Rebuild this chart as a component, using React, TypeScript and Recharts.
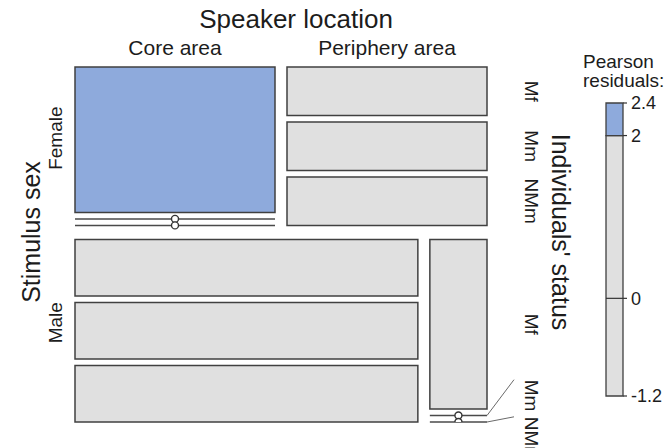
import React from "react";
import { ComposedChart, XAxis, YAxis, ReferenceArea, ReferenceLine, Scatter } from "recharts";

const sexLevels = ["Female", "Male"];
const locationLevels = ["Core area", "Periphery area"];
const statusLevels = ["Mf", "Mm", "NMm"];

// counts per location (rows) and status (columns)
const femaleCounts = [
  [15, 0, 0],
  [5, 5, 5],
];
const maleCounts = [
  [10, 10, 10],
  [5, 0, 0],
];

// Pearson residuals, same shape as the counts
const femaleResiduals = [
  [2.4, -1.2, -1.2],
  [-0.9, 0.7, 0.7],
];
const maleResiduals = [
  [-0.6, 0.5, 0.5],
  [1.1, -1.0, -1.0],
];

const legendBreaks = [-1.2, 2, 2.4];
const legendTicks = [-1.2, 0, 2, 2.4];

// label nudges (px along the row) for the status labels of the last column
const femaleLabelNudge = [0, 0, 0];
const maleLabelNudge = [0, -20, 17.5];

const FONT = '"Liberation Sans", Arial, sans-serif';
const INK = "#1c1c1c";
const GREY = "#e0e0e0";
const BLUE = "#8eaadc";
const EDGE = "#404040";

// plot box of the mosaic, in px
const LEFT = 75;
const TOP = 67;
const W = 412;
const H = 355;
const SEX_GAP = 14;
const LOC_GAP = 12;
const STATUS_GAP = 6.5;
const LABEL_SIZE = 19;

type Tile = {
  row: number;
  col: number;
  k: number;
  x0: number;
  x1: number;
  y0: number;
  y1: number;
  n: number;
  resid: number;
};

const sum = (a: number[]) => a.reduce((s, v) => s + v, 0);

// rough Arial widths, only used to find where a rotated label starts
const EM: Record<string, number> = { M: 0.833, N: 0.722, m: 0.833, f: 0.278 };
const textLen = (s: string, size: number) => sum(s.split("").map((c) => EM[c] ?? 0.556)) * size;

function fillFor(r: number) {
  return r > legendBreaks[1] ? BLUE : GREY;
}

function layout() {
  const counts = [femaleCounts, maleCounts];
  const resids = [femaleResiduals, maleResiduals];
  const total = sum(counts.map((c) => sum(c.map(sum))));
  const nGaps = statusLevels.length - 1;
  const freeH = H - SEX_GAP * (sexLevels.length - 1) - STATUS_GAP * nGaps * sexLevels.length;
  const freeW = W - LOC_GAP * (locationLevels.length - 1);
  const tiles: Tile[] = [];
  const rows: { y0: number; y1: number }[] = [];
  const cols: { x0: number; x1: number }[][] = [];
  let y = 0;
  counts.forEach((sexC, i) => {
    const nSex = sum(sexC.map(sum));
    const rowH = (nSex / total) * freeH + nGaps * STATUS_GAP;
    let x = 0;
    cols.push([]);
    sexC.forEach((cell, j) => {
      const nCell = sum(cell);
      const w = (nCell / nSex) * freeW;
      let ty = y;
      cell.forEach((n, k) => {
        const h = (n / nCell) * (rowH - nGaps * STATUS_GAP);
        tiles.push({ row: i, col: j, k, x0: x, x1: x + w, y0: ty, y1: ty + h, n, resid: resids[i][j][k] });
        ty += h + STATUS_GAP;
      });
      cols[i].push({ x0: x, x1: x + w });
      x += w + LOC_GAP;
    });
    rows.push({ y0: y, y1: y + rowH });
    y += rowH + SEX_GAP;
  });
  return { tiles, rows, cols };
}

const { tiles, rows, cols } = layout();
const zeroTiles = tiles.filter((t) => t.n === 0);
const zeroPoints = zeroTiles.map((t) => ({ x: (t.x0 + t.x1) / 2, y: t.y0 }));

// status labels sit next to the last column of each row
const lastCol = locationLevels.length - 1;
const nudges = [femaleLabelNudge, maleLabelNudge];
const statusLabels = tiles
  .filter((t) => t.col === lastCol)
  .map((t) => {
    const c = (t.y0 + t.y1) / 2 + nudges[t.row][t.k];
    const len = textLen(statusLevels[t.k], LABEL_SIZE);
    return { text: statusLevels[t.k], cy: c, start: c - len / 2, nudged: nudges[t.row][t.k] !== 0, tile: t };
  });

const Circle = (p: any) => (
  <circle cx={p.cx} cy={p.cy} r={3.5} fill="#fff" stroke="#333" strokeWidth={1.4} />
);
const Nothing = () => <g />;

function Mosaic() {
  return (
    <ComposedChart
      width={669}
      height={448}
      margin={{ top: TOP, left: LEFT, right: 669 - LEFT - W, bottom: 448 - TOP - H }}
      style={{ position: "absolute", left: 0, top: 0 }}
    >
      <XAxis type="number" dataKey="x" domain={[0, W]} hide allowDataOverflow />
      <YAxis type="number" dataKey="y" domain={[0, H]} reversed hide allowDataOverflow />
      {tiles
        .filter((t) => t.n > 0)
        .map((t, i) => (
          <ReferenceArea
            key={"t" + i}
            x1={t.x0}
            x2={t.x1}
            y1={t.y0}
            y2={t.y1}
            fill={fillFor(t.resid)}
            fillOpacity={1}
            stroke={EDGE}
            strokeWidth={1.5}
          />
        ))}
      {zeroTiles.map((t, i) => (
        <ReferenceLine
          key={"z" + i}
          segment={[
            { x: t.x0, y: t.y0 },
            { x: t.x1, y: t.y0 },
          ]}
          stroke="#4a4a4a"
          strokeWidth={1.5}
        />
      ))}
      {statusLabels
        .filter((l) => l.nudged)
        .map((l, i) => (
          <ReferenceLine
            key={"l" + i}
            ifOverflow="visible"
            segment={[
              { x: l.tile.x1, y: l.tile.y0 },
              { x: W + 27, y: l.start },
            ]}
            stroke="#6a6a6a"
            strokeWidth={1}
          />
        ))}
      <Scatter data={zeroPoints} shape={Circle} isAnimationActive={false} />
    </ComposedChart>
  );
}

function Legend() {
  const pts = legendTicks.map((v) => ({ x: 0.5, y: v }));
  return (
    <ComposedChart
      width={669}
      height={448}
      margin={{ top: 103, left: 606, right: 0, bottom: 52 }}
      style={{ position: "absolute", left: 0, top: 0 }}
    >
      <XAxis type="number" dataKey="x" domain={[0, 1]} hide />
      <YAxis
        type="number"
        dataKey="y"
        orientation="right"
        width={46}
        domain={[legendBreaks[0], legendBreaks[2]]}
        ticks={legendTicks}
        interval={0}
        axisLine={false}
        tickSize={4}
        tickMargin={4}
        tickLine={{ stroke: "#333", strokeWidth: 1.2 }}
        tick={{ fill: INK, fontSize: 18, fontFamily: FONT }}
      />
      <ReferenceArea y1={legendBreaks[0]} y2={legendBreaks[1]} fill={GREY} fillOpacity={1} stroke={EDGE} strokeWidth={1.3} />
      <ReferenceArea y1={legendBreaks[1]} y2={legendBreaks[2]} fill={BLUE} fillOpacity={1} stroke={EDGE} strokeWidth={1.3} />
      <ReferenceLine y={0} stroke="#333" strokeWidth={1.2} />
      <Scatter data={pts} shape={Nothing} isAnimationActive={false} />
    </ComposedChart>
  );
}

export default function App() {
  const px = (x: number) => LEFT + x;
  const py = (y: number) => TOP + y;
  return (
    <div style={{ position: "relative", width: 669, height: 448, background: "#fff" }}>
      <style>{"body{margin:0}"}</style>
      <Mosaic />
      <Legend />
      <svg
        width={669}
        height={448}
        style={{ position: "absolute", left: 0, top: 0, pointerEvents: "none" }}
        fontFamily={FONT}
        fill={INK}
      >
        <text x={296} y={28} fontSize={26} textAnchor="middle">
          Speaker location
        </text>
        {locationLevels.map((name, j) => (
          <text key={name} x={px((cols[0][j].x0 + cols[0][j].x1) / 2)} y={55} fontSize={21} textAnchor="middle">
            {name}
          </text>
        ))}
        <text transform="translate(40,232) rotate(-90)" fontSize={25} textAnchor="middle">
          Stimulus sex
        </text>
        {sexLevels.map((name, i) => (
          <text
            key={name}
            transform={`translate(62,${py((rows[i].y0 + rows[i].y1) / 2) - 8}) rotate(-90)`}
            fontSize={19}
            textAnchor="middle"
          >
            {name}
          </text>
        ))}
        <text transform="translate(552,232) rotate(90)" fontSize={25} textAnchor="middle">
          Individuals' status
        </text>
        {statusLabels.map((l, i) => (
          <text key={i} transform={`translate(525,${py(l.cy)}) rotate(90)`} fontSize={LABEL_SIZE} textAnchor="middle">
            {l.text}
          </text>
        ))}
        <text x={583} y={68} fontSize={19}>
          Pearson
        </text>
        <text x={583} y={87} fontSize={19}>
          residuals:
        </text>
      </svg>
    </div>
  );
}
